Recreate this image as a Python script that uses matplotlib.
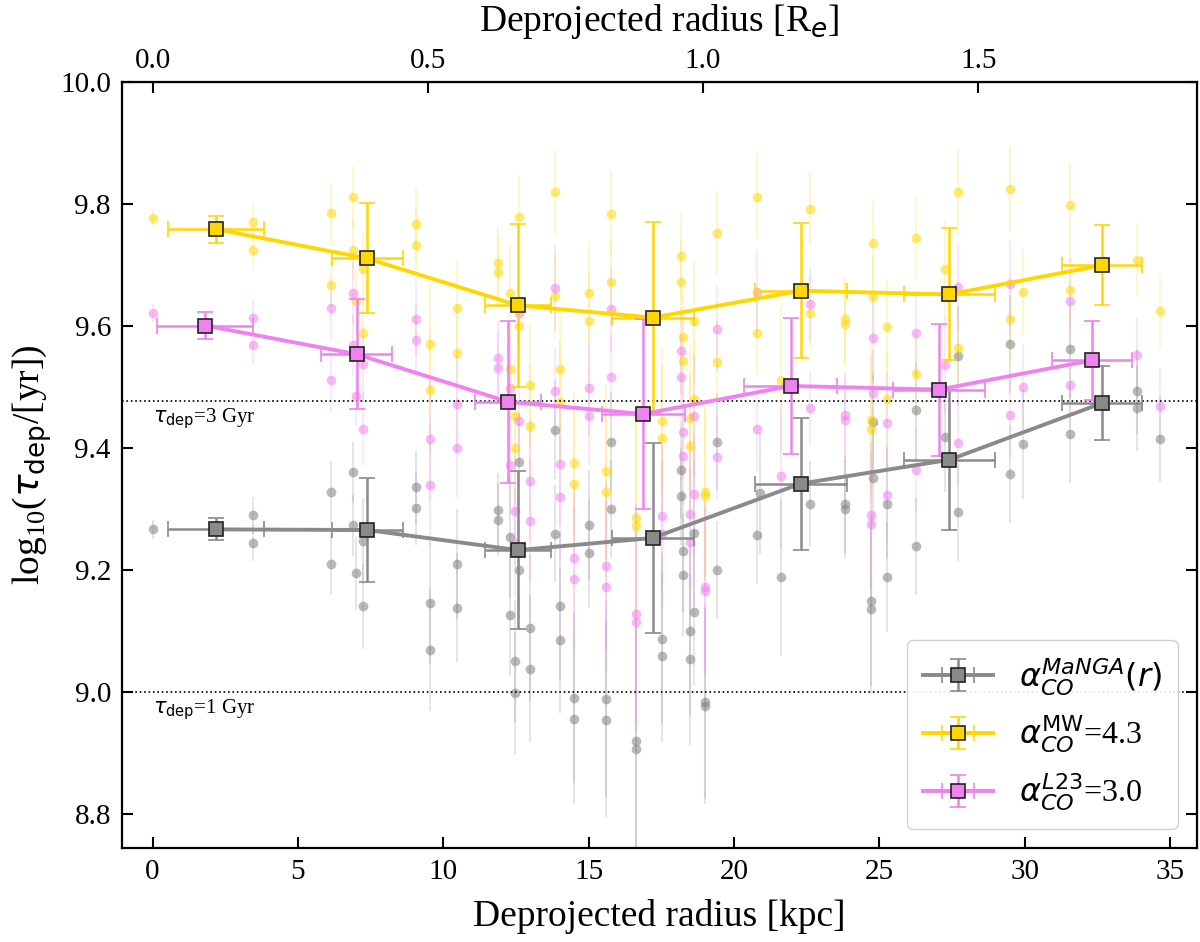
import matplotlib
matplotlib.use('Agg')
import matplotlib.pyplot as plt
import numpy as np

# ---------------- data ----------------
# individual measurements (MW conversion factor)
mw_x = [0.00, 3.46, 3.46, 6.13, 6.13, 6.91, 6.91, 7.00, 7.23, 7.23,
        9.06, 9.06, 9.54, 9.54, 10.49, 10.49, 11.89, 11.89, 12.29, 12.29,
        12.47, 12.47, 12.61, 12.61, 13.00, 13.00, 13.85, 13.85, 14.01, 14.01,
        14.50, 14.50, 15.01, 15.01, 15.60, 15.60, 15.77, 15.77, 16.62, 16.62,
        17.53, 17.53, 18.18, 18.18, 18.26, 18.26, 18.49, 18.49, 18.63, 18.63,
        18.99, 18.99, 19.41, 19.41, 20.78, 20.78, 21.62, 22.62, 22.62, 23.82,
        23.82, 24.73, 24.73, 24.79, 24.79, 25.27, 25.27, 26.28, 26.28, 27.26,
        27.72, 27.72, 29.50, 29.50, 29.95, 31.56, 31.56, 33.87, 34.66]
mw_y = [9.777, 9.770, 9.725, 9.785, 9.667, 9.811, 9.725, 9.642, 9.694, 9.588,
        9.767, 9.733, 9.571, 9.496, 9.629, 9.556, 9.704, 9.688, 9.655, 9.529,
        9.453, 9.400, 9.778, 9.600, 9.503, 9.437, 9.819, 9.650, 9.530, 9.476,
        9.376, 9.341, 9.654, 9.608, 9.363, 9.329, 9.784, 9.673, 9.285, 9.272,
        9.445, 9.416, 9.715, 9.673, 9.582, 9.543, 9.449, 9.403, 9.608, 9.481,
        9.329, 9.322, 9.752, 9.541, 9.812, 9.588, 9.511, 9.792, 9.622, 9.611,
        9.603, 9.447, 9.432, 9.736, 9.647, 9.598, 9.480, 9.744, 9.521, 9.693,
        9.820, 9.565, 9.825, 9.611, 9.656, 9.798, 9.659, 9.709, 9.625]
mw_err = [0.015, 0.03, 0.03, 0.05, 0.05, 0.05, 0.05, 0.05, 0.06, 0.06,
          0.06, 0.06, 0.10, 0.10, 0.08, 0.08, 0.06, 0.06, 0.08, 0.08,
          0.09, 0.09, 0.07, 0.07, 0.10, 0.10, 0.07, 0.07, 0.10, 0.10,
          0.12, 0.12, 0.08, 0.08, 0.14, 0.14, 0.07, 0.07, 0.18, 0.18,
          0.12, 0.12, 0.07, 0.07, 0.08, 0.08, 0.12, 0.12, 0.10, 0.10,
          0.14, 0.14, 0.07, 0.07, 0.07, 0.07, 0.12, 0.06, 0.06, 0.07,
          0.07, 0.12, 0.12, 0.07, 0.07, 0.08, 0.08, 0.07, 0.07, 0.08,
          0.07, 0.07, 0.07, 0.07, 0.07, 0.07, 0.07, 0.06, 0.06]

# individual measurements (L23 conversion factor)
l23_x = mw_x
l23_y = [9.621, 9.614, 9.569, 9.629, 9.511, 9.655, 9.569, 9.486, 9.538, 9.432,
         9.611, 9.577, 9.415, 9.340, 9.473, 9.400, 9.548, 9.532, 9.499, 9.373,
         9.297, 9.244, 9.622, 9.444, 9.347, 9.281, 9.663, 9.494, 9.374, 9.320,
         9.220, 9.185, 9.498, 9.452, 9.207, 9.173, 9.628, 9.517, 9.129, 9.116,
         9.289, 9.260, 9.559, 9.517, 9.426, 9.387, 9.293, 9.247, 9.452, 9.325,
         9.173, 9.166, 9.596, 9.385, 9.656, 9.432, 9.355, 9.636, 9.466, 9.455,
         9.447, 9.291, 9.276, 9.580, 9.491, 9.442, 9.324, 9.588, 9.365, 9.537,
         9.664, 9.409, 9.669, 9.455, 9.500, 9.642, 9.503, 9.553, 9.469]
l23_err = mw_err

# individual measurements (MaNGA radially varying conversion factor)
mg_x = [0.00, 3.46, 3.46, 6.13, 6.13, 6.91, 6.91, 7.00, 7.23, 7.23,
        9.06, 9.06, 9.54, 9.54, 10.49, 10.49, 11.89, 11.89, 12.29, 12.29,
        12.47, 12.47, 12.61, 12.61, 13.00, 13.00, 13.85, 13.85, 14.01, 14.01,
        14.50, 14.50, 15.01, 15.01, 15.60, 15.60, 15.77, 15.77, 16.62, 16.62,
        17.53, 17.53, 18.18, 18.18, 18.26, 18.26, 18.49, 18.49, 18.63, 18.63,
        18.99, 18.99, 19.41, 19.41, 20.78, 20.90, 21.62, 22.62, 23.82, 23.82,
        24.73, 24.73, 24.79, 24.79, 25.27, 25.27, 26.28, 26.28, 27.26, 27.72,
        27.72, 29.50, 29.50, 29.95, 31.56, 31.56, 33.87, 33.87, 34.66]
mg_y = [9.267, 9.290, 9.245, 9.329, 9.211, 9.361, 9.274, 9.195, 9.248, 9.141,
        9.336, 9.302, 9.146, 9.070, 9.210, 9.139, 9.299, 9.283, 9.254, 9.126,
        9.052, 8.999, 9.377, 9.200, 9.106, 9.039, 9.430, 9.260, 9.142, 9.086,
        8.991, 8.957, 9.275, 9.229, 8.989, 8.955, 9.411, 9.300, 8.920, 8.907,
        9.088, 9.059, 9.364, 9.321, 9.231, 9.192, 9.101, 9.054, 9.261, 9.132,
        8.985, 8.977, 9.411, 9.200, 9.258, 9.326, 9.189, 9.309, 9.308, 9.300,
        9.150, 9.137, 9.443, 9.352, 9.308, 9.189, 9.462, 9.239, 9.419, 9.551,
        9.295, 9.571, 9.358, 9.407, 9.563, 9.423, 9.493, 9.466, 9.415]
mg_err = [0.015, 0.03, 0.03, 0.05, 0.05, 0.05, 0.05, 0.06, 0.07, 0.07,
          0.06, 0.06, 0.10, 0.10, 0.09, 0.09, 0.06, 0.06, 0.10, 0.10,
          0.10, 0.10, 0.08, 0.08, 0.12, 0.12, 0.08, 0.08, 0.12, 0.12,
          0.14, 0.14, 0.09, 0.09, 0.16, 0.16, 0.08, 0.08, 0.20, 0.20,
          0.14, 0.14, 0.08, 0.08, 0.10, 0.10, 0.14, 0.14, 0.12, 0.12,
          0.16, 0.16, 0.08, 0.08, 0.08, 0.10, 0.13, 0.07, 0.08, 0.08,
          0.14, 0.14, 0.08, 0.08, 0.09, 0.09, 0.08, 0.08, 0.09, 0.08,
          0.08, 0.08, 0.08, 0.09, 0.08, 0.08, 0.07, 0.07, 0.07]

# binned medians
bin_x = [2.17, 7.38, 12.57, 17.21, 22.30, 27.41, 32.67]
bin_xerr = [1.65, 1.22, 1.13, 1.42, 1.59, 1.57, 1.37]
bin_x_l23 = [1.81, 7.02, 12.24, 16.88, 21.95, 27.05, 32.32]
bin_mg = [9.267, 9.266, 9.233, 9.253, 9.342, 9.381, 9.474]
bin_mg_err = [0.018, 0.085, 0.130, 0.156, 0.108, 0.115, 0.060]
bin_mw = [9.759, 9.711, 9.634, 9.614, 9.658, 9.652, 9.700]
bin_mw_err = [0.022, 0.090, 0.133, 0.156, 0.111, 0.108, 0.065]
bin_l23 = [9.601, 9.554, 9.476, 9.456, 9.502, 9.496, 9.544]
bin_l23_err = [0.022, 0.090, 0.133, 0.156, 0.111, 0.108, 0.065]

tau_lines_gyr = [3, 1]
RE_KPC = 18.94   # kpc per effective radius (top axis)

labels = [r'$\alpha_{CO}^{MaNGA}(r)$', r'$\alpha_{CO}^{\rm MW}$=4.3',
          r'$\alpha_{CO}^{L23}$=3.0']

# ---------------- plot ----------------
plt.rcParams['font.family'] = ['Liberation Serif', 'DejaVu Serif']
plt.rcParams['mathtext.fontset'] = 'dejavusans'

fig = plt.figure(figsize=(12, 9.42), dpi=100)
ax = fig.add_axes([122 / 1200, 1 - 848 / 942, (1197 - 122) / 1200, (848 - 82) / 942])

c_mg, c_mw, c_l23 = 'gray', 'gold', 'violet'

for x, y, e, c in [(mg_x, mg_y, mg_err, c_mg), (mw_x, mw_y, mw_err, c_mw),
                   (l23_x, l23_y, l23_err, c_l23)]:
    ax.errorbar(x, y, yerr=e, fmt='none', ecolor=c, alpha=0.2, elinewidth=1.5, zorder=1)
    ax.plot(x, y, 'o', color=c, alpha=0.55, ms=7, mec='none', zorder=2)

for bx, by, be, c, lab in [(bin_x, bin_mg, bin_mg_err, '#8a8a8a', labels[0]),
                           (bin_x, bin_mw, bin_mw_err, c_mw, labels[1]),
                           (bin_x_l23, bin_l23, bin_l23_err, c_l23, labels[2])]:
    ax.errorbar(bx, by, xerr=bin_xerr, yerr=be, fmt='s-', color=c, mfc=c, mec='#222222',
                mew=1.2, ms=10, lw=2.8, elinewidth=1.8, capsize=6, capthick=1.5,
                zorder=5, label=lab)

for t in tau_lines_gyr:
    ax.axhline(np.log10(t * 1e9), color='k', ls=':', lw=1.2, zorder=3)
ax.text(0.0, np.log10(3e9) - 0.008, r'$\tau_{\rm dep}$=3 Gyr', va='top', ha='left', fontsize=15)
ax.text(0.0, np.log10(1e9) - 0.008, r'$\tau_{\rm dep}$=1 Gyr', va='top', ha='left', fontsize=15)

ax.set_xlim(-1.05, 35.93)
ax.set_ylim(8.745, 10.0)
ax.set_xticks(np.arange(0, 36, 5))
ax.set_yticks([8.8, 9.0, 9.2, 9.4, 9.6, 9.8, 10.0])
ax.set_yticklabels(['8.8', '9.0', '9.2', '9.4', '9.6', '9.8', '10.0'])
ax.tick_params(direction='in', right=True, top=False, length=8, width=1.5, labelsize=21, pad=8)
for s in ax.spines.values():
    s.set_linewidth(1.6)

ax.set_xlabel('Deprojected radius [kpc]', fontsize=27, labelpad=10)
ax.set_ylabel(r'log$_{\mathregular{10}}$($\tau_{\rm dep}$/[yr])', fontsize=27)

sec = ax.secondary_xaxis('top', functions=(lambda x: x / RE_KPC, lambda r: r * RE_KPC))
sec.set_xticks([0.0, 0.5, 1.0, 1.5])
sec.set_xticklabels(['0.0', '0.5', '1.0', '1.5'])
sec.tick_params(direction='in', length=8, width=1.5, labelsize=21, pad=6)
sec.set_xlabel('Deprojected radius [R$_e$]', fontsize=27, labelpad=12)

ax.legend(loc='lower right', fontsize=23, borderpad=0.5, handlelength=2.2,
          labelspacing=0.5, framealpha=0.9, borderaxespad=0.6)

fig.savefig('out.png', dpi=100)
